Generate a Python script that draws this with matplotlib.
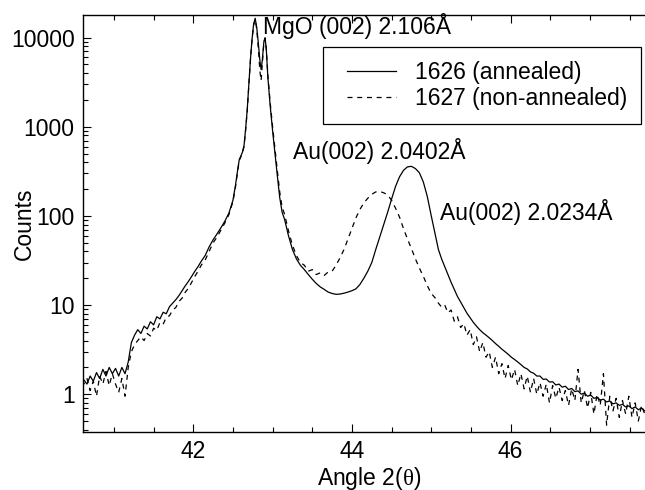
import numpy as np
import matplotlib
matplotlib.use("Agg")
import matplotlib.pyplot as plt
from matplotlib.ticker import FixedLocator, FixedFormatter, LogLocator, NullFormatter, MultipleLocator
from matplotlib.lines import Line2D
from matplotlib.legend_handler import HandlerLine2D

plt.rcParams['font.family'] = ['Liberation Sans', 'DejaVu Sans']
plt.rcParams['mathtext.fontset'] = 'custom'
plt.rcParams['mathtext.rm'] = 'Liberation Serif'
plt.rcParams['mathtext.it'] = 'Liberation Serif'
plt.rcParams['lines.scale_dashes'] = False

# ---- data ----
# segment A: low-angle tail
angle_a = [40.58, 40.62, 40.66, 40.70, 40.74, 40.78, 40.82, 40.86, 40.90, 40.94, 40.98,
           41.02, 41.06, 41.10, 41.14, 41.18, 41.22, 41.26, 41.30, 41.34, 41.38,
           41.42, 41.46, 41.50, 41.54, 41.58, 41.62, 41.66, 41.70, 41.74, 41.78,
           41.82, 41.86, 41.90, 41.94, 41.98, 42.02, 42.06, 42.10]
annealed_a = [1.4, 1.45, 1.3, 1.6, 1.4, 1.75, 1.5, 1.9, 1.6, 2.0, 1.7,
              1.95, 1.6, 2.0, 1.7, 2.3, 3.8, 4.6, 5.3, 4.8, 5.8,
              5.4, 6.5, 6.0, 7.4, 7.0, 8.3, 8.0, 9.6, 10.5, 11.5,
              12.8, 14.5, 16.5, 18.5, 21, 24, 27, 31]
nonannealed_a = [1.35, 1.3, 1.5, 1.1, 1.4, 0.95, 1.6, 1.3, 1.8, 1.25, 1.7,
                 1.3, 1.05, 1.5, 0.95, 2.0, 3.0, 3.6, 4.0, 4.4, 4.0,
                 4.8, 4.5, 5.5, 5.2, 6.4, 6.1, 7.3, 7.6, 8.8, 9.4,
                 11.0, 12.0, 14.0, 15.5, 18, 21, 24, 28]

# segment B: MgO (002) substrate peak
angle_b = [42.15, 42.20, 42.25, 42.30, 42.35, 42.40, 42.45, 42.50, 42.53, 42.56,
           42.58, 42.60, 42.62, 42.64, 42.66, 42.68, 42.70, 42.72, 42.74, 42.76,
           42.78, 42.80, 42.82, 42.84, 42.855, 42.87, 42.89, 42.905, 42.92, 42.94,
           42.97, 43.00, 43.03, 43.06, 43.09, 43.12]
annealed_b = [36, 45, 54, 63, 74, 88, 108, 150, 215, 330,
              430, 470, 520, 620, 950, 1550, 3000, 5600, 9500, 14000,
              16500, 13000, 8700, 5500, 4400, 5600, 9000, 10000, 7500, 3600,
              1700, 900, 500, 280, 160, 110]
nonannealed_b = [32, 40, 50, 58, 70, 84, 104, 145, 205, 320,
                 420, 460, 510, 600, 920, 1500, 2900, 5500, 9300, 13800,
                 16000, 12500, 7500, 4200, 3300, 5000, 8800, 9800, 7600, 3800,
                 1850, 1000, 560, 320, 185, 125]

# segment C: Au (002) film peaks
angle_c = [43.15, 43.20, 43.25, 43.30, 43.35, 43.40, 43.45, 43.50, 43.55, 43.60,
           43.65, 43.70, 43.75, 43.80, 43.85, 43.90, 43.95, 44.00, 44.05, 44.10,
           44.15, 44.20, 44.25, 44.30, 44.35, 44.40, 44.45, 44.50, 44.55, 44.60,
           44.65, 44.70, 44.75, 44.80, 44.85, 44.90, 44.95, 45.00, 45.05]
annealed_c = [92, 60, 42, 33, 28, 25, 22, 19.5, 17.5, 16,
              15, 14, 13.5, 13.2, 13.3, 13.6, 14, 14.5, 15.2, 17,
              20, 24, 30, 42, 58, 80, 110, 155, 215, 275,
              325, 355, 360, 340, 305, 240, 165, 100, 62]
nonannealed_c = [105, 68, 47, 36, 30, 28, 24, 25, 22, 23,
                 21.5, 23.5, 24, 28, 34, 42, 55, 72, 95, 118,
                 140, 158, 175, 186, 188, 182, 172, 150, 122, 97,
                 72, 55, 43, 33, 26, 21, 16.5, 13.5, 12]

# segment D: high-angle tail
angle_d = [45.09, 45.13, 45.17, 45.21, 45.25, 45.29, 45.33, 45.37, 45.41, 45.45,
           45.49, 45.53, 45.57, 45.61, 45.65, 45.69, 45.73, 45.77, 45.81, 45.85,
           45.89, 45.93, 45.97, 46.01, 46.05, 46.09, 46.13, 46.17, 46.21, 46.25,
           46.29, 46.33, 46.37, 46.41, 46.45, 46.49, 46.53, 46.57, 46.61, 46.65,
           46.69, 46.73, 46.77, 46.81, 46.85, 46.89, 46.93, 46.97, 47.01, 47.05,
           47.09, 47.13, 47.17, 47.21, 47.25, 47.29, 47.33, 47.37, 47.41, 47.45,
           47.49, 47.53, 47.57, 47.61, 47.65, 47.69, 47.73, 47.77, 47.81]
annealed_d = [42, 33, 27, 22, 18, 15, 12.5, 10.8, 9.3, 8.1,
              7.2, 6.4, 5.8, 5.3, 4.9, 4.6, 4.3, 4.0, 3.7, 3.45,
              3.2, 3.0, 2.8, 2.6, 2.45, 2.3, 2.15, 2.0, 1.92, 1.78,
              1.72, 1.6, 1.6, 1.47, 1.48, 1.37, 1.38, 1.27, 1.3, 1.2,
              1.23, 1.13, 1.16, 1.07, 1.09, 1.0, 1.03, 0.95, 0.98, 0.9,
              0.92, 0.86, 0.88, 0.82, 0.84, 0.78, 0.8, 0.75, 0.77, 0.72,
              0.74, 0.69, 0.72, 0.67, 0.7, 0.65, 0.68, 0.64, 0.66]
nonannealed_d = [10.5, 9.5, 10.0, 8.2, 8.8, 6.6, 7.4, 5.6, 6.2, 4.6,
                 5.3, 3.6, 4.4, 3.0, 3.8, 2.6, 3.0, 2.0, 2.6, 1.7,
                 2.2, 1.5, 2.1, 1.45, 1.9, 1.25, 1.7, 1.15, 1.6, 1.05,
                 1.5, 1.0, 1.35, 0.95, 1.3, 0.8, 1.25, 0.9, 1.2, 0.85,
                 1.1, 0.75, 1.15, 0.85, 1.9, 0.8, 1.1, 0.7, 1.05, 0.6,
                 1.0, 0.75, 1.7, 0.45, 0.95, 0.65, 0.9, 0.55, 0.85, 0.6,
                 0.95, 0.55, 0.8, 0.5, 0.75, 0.6, 0.72, 0.55, 0.7]

labels = ['1626 (annealed)', '1627 (non-annealed)']
x_ticks = [42, 44, 46]
x_tick_labels = ['42', '44', '46']
y_ticks = [1, 10, 100, 1000, 10000]
y_tick_labels = ['1', '10', '100', '1000', '10000']
peak_labels = ['MgO (002) 2.106Å', 'Au(002) 2.0402Å', 'Au(002) 2.0234Å']
peak_label_pos = [(42.878, 11100), (43.256, 439), (45.109, 89.3)]

angle = np.array(angle_a + angle_b + angle_c + angle_d)
annealed = np.array(annealed_a + annealed_b + annealed_c + annealed_d)
nonannealed = np.array(nonannealed_a + nonannealed_b + nonannealed_c + nonannealed_d)

# ---- figure ----
W, H = 645, 490
fig = plt.figure(figsize=(W / 100, H / 100), dpi=100)
ax = fig.add_axes([83 / W, 1 - 432 / H, 572 / W, 417 / H])

fs = 16.5
ax.plot(angle, annealed, color='black', lw=0.9, label=labels[0])
ax.plot(angle, nonannealed, color='black', lw=0.9, linestyle=(0, (3.6, 3.4)), label=labels[1])

ax.set_yscale('log')
ax.set_xlim(40.61, 47.82)
ax.set_ylim(0.377, 17950)

ax.xaxis.set_major_locator(FixedLocator(x_ticks))
ax.xaxis.set_major_formatter(FixedFormatter(x_tick_labels))
ax.xaxis.set_minor_locator(MultipleLocator(0.5))
ax.yaxis.set_major_locator(FixedLocator(y_ticks))
ax.yaxis.set_major_formatter(FixedFormatter(y_tick_labels))
ax.yaxis.set_minor_locator(LogLocator(base=10, subs=np.arange(2, 10)))
ax.yaxis.set_minor_formatter(NullFormatter())

ax.tick_params(which='both', direction='in', top=True, right=True, width=0.8, labelsize=fs)
ax.tick_params(which='major', length=6, pad=6)
ax.tick_params(which='minor', length=3.5)
for s in ax.spines.values():
    s.set_linewidth(1.0)

ax.set_ylabel('Counts', fontsize=fs)
ax.yaxis.set_label_coords(-0.083, 0.5)
ax.set_xlabel(r'Angle 2($\theta$)', fontsize=fs)
ax.xaxis.set_label_coords(0.5, -0.078)

for txt, (tx, ty) in zip(peak_labels, peak_label_pos):
    ax.text(tx, ty, txt, fontsize=fs, ha='left', va='baseline', clip_on=False)

leg = ax.legend(loc='upper left', bbox_to_anchor=((323 - 83) / 572, 1 - (47 - 15) / 417),
                borderaxespad=0, fontsize=fs, frameon=True, fancybox=False,
                edgecolor='black', framealpha=1, borderpad=0.6, labelspacing=0.15,
                handlelength=2.6, handletextpad=0.8,
                handler_map={Line2D: HandlerLine2D(xpad=0.45)})
leg.get_frame().set_linewidth(0.9)

fig.savefig('out.png', dpi=100)
